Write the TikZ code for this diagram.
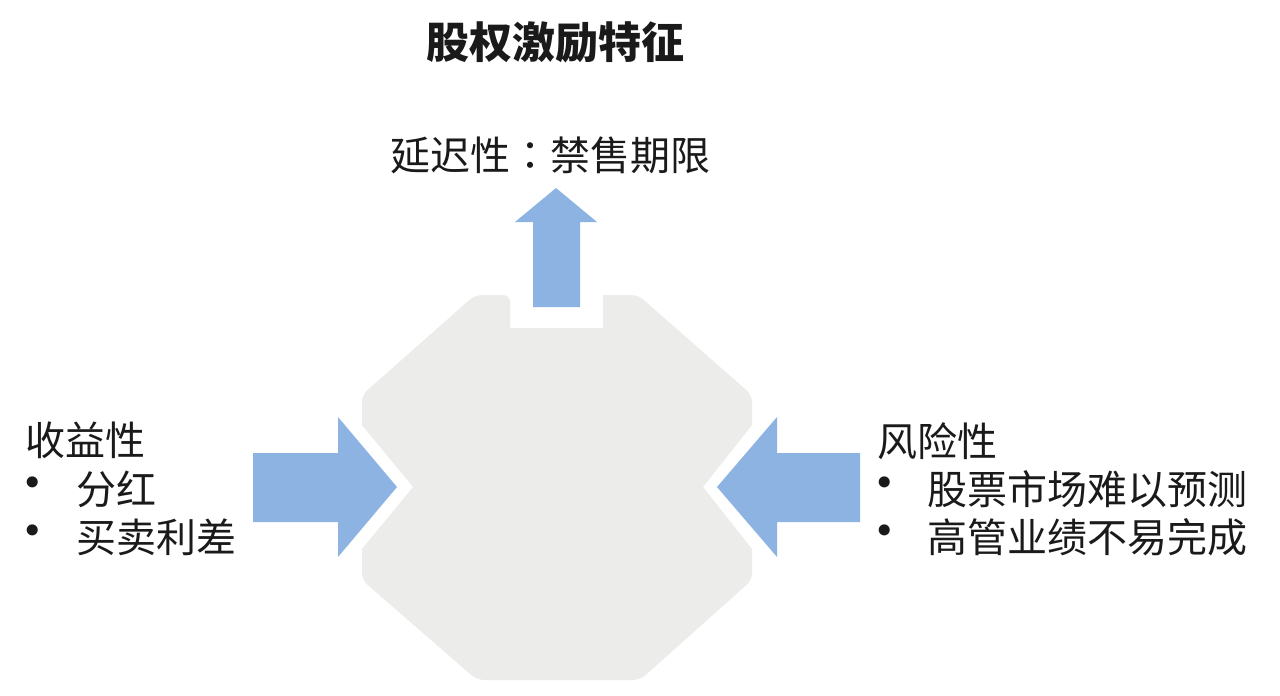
\documentclass[tikz,border=0pt]{standalone}
\usepackage{fontspec}
\setmainfont{Noto Sans CJK SC}
\newfontfamily\djv{DejaVu Sans}
\newfontfamily\cjktc{Noto Sans CJK TC}
\definecolor{arrowblue}{HTML}{8DB3E2}
\definecolor{shapegrey}{HTML}{ECECEA}
\definecolor{txt}{HTML}{1A1A1A}
\tikzset{
  lbl/.style={inner sep=0pt, text=txt, font=\fontsize{40}{46}\selectfont, anchor=west},
  bul/.style={inner sep=0pt, text=txt, font=\djv\fontsize{38}{44}\selectfont, anchor=center},
  arrowshape/.style={fill=arrowblue, draw=none},
  centershape/.style={fill=shapegrey, draw=none}
}
\begin{document}
\begin{tikzpicture}[x=1pt,y=-1pt]
\useasboundingbox[fill=white] (0,0) rectangle (1280,696);
% central shape
\path[centershape,rounded corners=7pt]
  (475,295) -- (510,295) [sharp corners]-- (510,328) -- (603,328) -- (603,295) [rounded corners=7pt]-- (638,295) -- (752,395) [sharp corners]-- (752,425) -- (703,487) -- (752,549) [rounded corners=7pt]-- (752,580) -- (640,680) -- (477,680) -- (362,580) [sharp corners]-- (362,549) -- (413,487) -- (362,425) [rounded corners=7pt]-- (362,395) -- cycle;
% arrows
\path[arrowshape] (533,307) -- (533,222) -- (515,222) -- (556,188) -- (597,222) -- (580,222) -- (580,307) -- cycle;
\path[arrowshape] (253,453) -- (338,453) -- (338,417) -- (397,487) -- (338,557) -- (338,522) -- (253,522) -- cycle;
\path[arrowshape] (860,453) -- (777,453) -- (777,417) -- (717,487) -- (777,557) -- (777,522) -- (860,522) -- cycle;
% texts
\node[inner sep=0pt, text=txt, font=\bfseries\fontsize{43}{50}\selectfont] (title) at (555,42) {股权激励特征};
\node[lbl] (delay) at (390,155) {延迟性{\cjktc：}禁售期限};
\node[lbl] (gain) at (25,440) {收益性};
\node[bul] (b1) at (33,487) {•};
\node[lbl] (g1) at (76,489) {分红};
\node[bul] (b2) at (33,535) {•};
\node[lbl] (g2) at (76,537) {买卖利差};
\node[lbl] (risk) at (877,441) {风险性};
\node[bul] (b3) at (885,487) {•};
\node[lbl] (r1) at (927,489) {股票市场难以预测};
\node[bul] (b4) at (885,535) {•};
\node[lbl] (r2) at (927,537) {高管业绩不易完成};
\end{tikzpicture}
\end{document}
